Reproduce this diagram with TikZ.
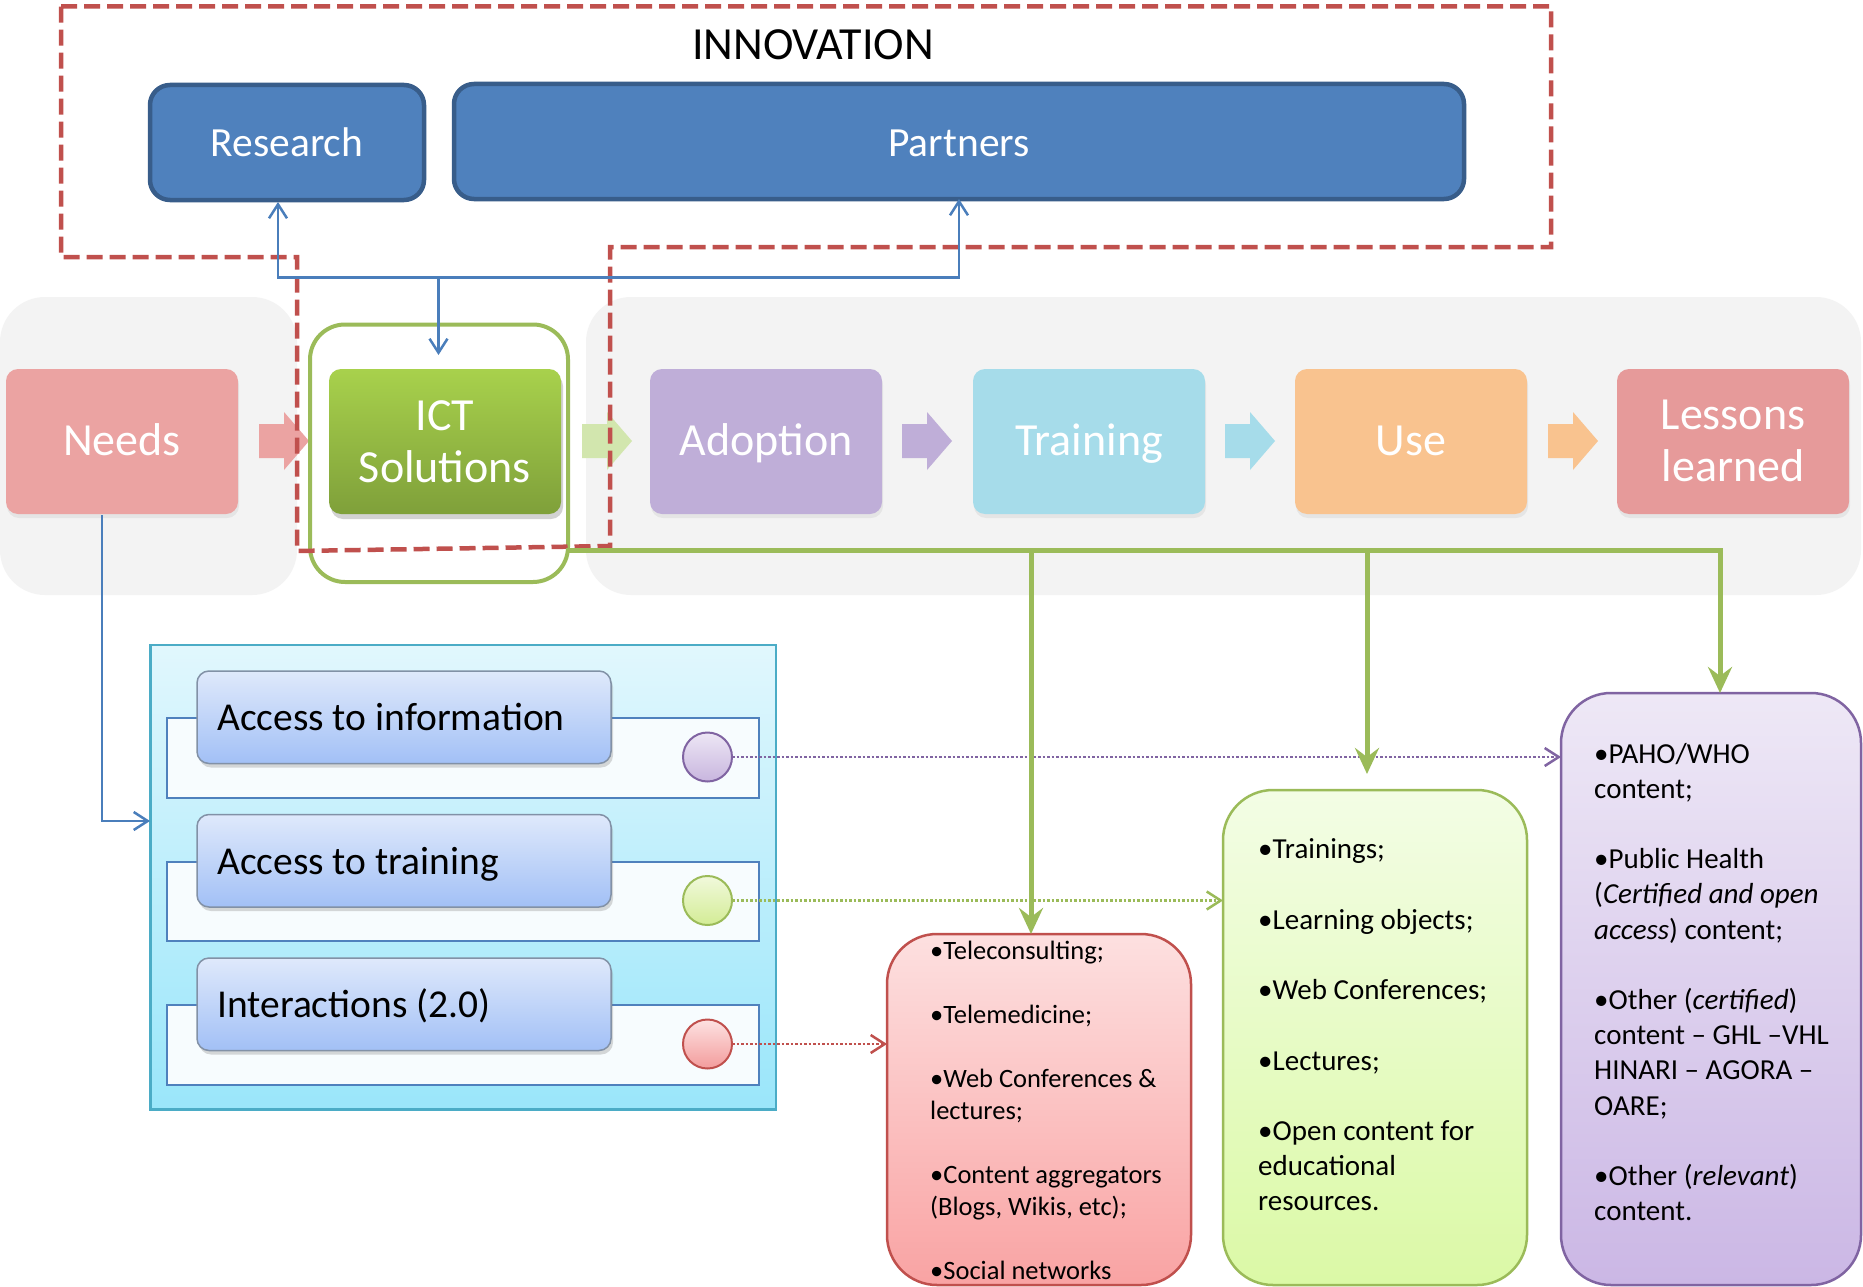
\documentclass[tikz,border=0pt]{standalone}
\usepackage{fontspec}
\setmainfont{Carlito}
\usetikzlibrary{arrows.meta,shadows,calc}
\definecolor{dashred}{HTML}{C0504D}
\definecolor{boxblue}{HTML}{4F81BD}
\definecolor{boxblueb}{HTML}{385D8A}
\definecolor{connblue}{HTML}{4A7EBB}
\definecolor{ogreen}{HTML}{9BBB59}
\definecolor{opurple}{HTML}{8064A2}
\definecolor{bggray}{HTML}{F3F3F3}
\definecolor{needsc}{HTML}{EBA3A2}
\definecolor{adoptc}{HTML}{BFAED8}
\definecolor{trainc}{HTML}{A6DCEA}
\definecolor{usec}{HTML}{F9C38F}
\definecolor{lessc}{HTML}{E69A9A}
\definecolor{ictarrc}{HTML}{D2E6AE}
\definecolor{ictt}{HTML}{A8D14C}
\definecolor{ictb}{HTML}{7FA03A}
\definecolor{panelt}{HTML}{E1F7FD}
\definecolor{panelb}{HTML}{9AE6FA}
\definecolor{panelline}{HTML}{4BACC6}
\definecolor{labt}{HTML}{DFE9FB}
\definecolor{labb}{HTML}{A2C0F6}
\definecolor{labline}{HTML}{8291A6}
\definecolor{rowfill}{HTML}{F7FCFE}
\definecolor{redt}{HTML}{FDE0E0}
\definecolor{redb}{HTML}{F9A3A3}
\definecolor{grnt}{HTML}{F3FDE5}
\definecolor{grnb}{HTML}{DBF9A6}
\definecolor{purt}{HTML}{EEE8F6}
\definecolor{purb}{HTML}{CBB7E5}
\definecolor{cpurt}{HTML}{EDE6F5}
\definecolor{cpurb}{HTML}{C8B5DE}
\definecolor{cgrnt}{HTML}{F1F9DC}
\definecolor{cgrnb}{HTML}{D3EC95}
\definecolor{credt}{HTML}{FDE2E2}
\definecolor{credb}{HTML}{F39C9C}
\begin{document}
\begin{tikzpicture}[x=1pt,y=-1pt,
  procbox/.style={rectangle, rounded corners=12pt, minimum width=232pt, minimum height=145pt, inner sep=0pt, outer sep=0pt},
  proctext/.style={anchor=base, text=white, font=\fontsize{46}{55}\selectfont, inner sep=0pt},
  bluebox/.style={rectangle, rounded corners=20pt, fill=boxblue, draw=boxblueb, line width=4.5pt, inner sep=0pt, outer sep=0pt, minimum height=115pt},
  bluetext/.style={anchor=base, text=white, font=\fontsize{41.5}{50}\selectfont, inner sep=0pt},
  bconn/.style={draw=connblue, line width=2.5pt},
  barb/.style={-{Straight Barb[length=14pt,width=18pt]}},
  gline/.style={draw=ogreen, line width=5pt},
  garrow/.style={-{Stealth[length=26pt,width=24pt,inset=9pt]}},
  dotconn/.style={line width=2.5pt, dash pattern=on 2.5pt off 2pt},
  rowrect/.style={rectangle, fill=rowfill, draw=boxblue, line width=2pt, minimum width=592pt, minimum height=79.5pt, inner sep=0pt, outer sep=0pt},
  labbox/.style={rectangle, rounded corners=12pt, top color=labt, bottom color=labb, draw=labline, line width=1.5pt, minimum width=414pt, minimum height=92.5pt, inner sep=0pt, outer sep=0pt, drop shadow={shadow xshift=2pt, shadow yshift=-4pt, opacity=0.3}},
  labtext/.style={anchor=base west, font=\fontsize{39.5}{47}\selectfont, inner sep=0pt},
  dotc/.style={circle, minimum size=49pt, inner sep=0pt, outer sep=0pt, line width=2pt},
  rbox/.style={rectangle, rounded corners=50pt, line width=2.5pt, inner sep=0pt, outer sep=0pt},
  redtxt/.style={anchor=base west, font=\fontsize{26.5}{32}\selectfont, inner sep=0pt},
  rtxt/.style={anchor=base west, font=\fontsize{29}{35}\selectfont, inner sep=0pt}
]
\useasboundingbox (0,0) rectangle (1863,1287);
\fill[white] (0,0) rectangle (1863,1287);

% gray backgrounds
\fill[bggray, rounded corners=45pt] (0,297) rectangle (297,595);
\fill[bggray, rounded corners=45pt] (586,297) rectangle (1861,595);

% process boxes
\node[procbox, fill=needsc, drop shadow={shadow xshift=1pt, shadow yshift=-4pt, opacity=0.12}] (needs) at (122,441.5) {};
\node[procbox, top color=ictt, bottom color=ictb, drop shadow={shadow xshift=2pt, shadow yshift=-5pt, opacity=0.35}] (ict) at (445,441.5) {};
\node[procbox, fill=adoptc, drop shadow={shadow xshift=1pt, shadow yshift=-4pt, opacity=0.12}] (adoption) at (766,441.5) {};
\node[procbox, fill=trainc, drop shadow={shadow xshift=1pt, shadow yshift=-4pt, opacity=0.12}] (training) at (1089,441.5) {};
\node[procbox, fill=usec, drop shadow={shadow xshift=1pt, shadow yshift=-4pt, opacity=0.12}] (use) at (1411,441.5) {};
\node[procbox, fill=lessc, drop shadow={shadow xshift=1pt, shadow yshift=-4pt, opacity=0.12}] (lessons) at (1733,441.5) {};

\node[proctext] (needsT) at (122,455) {Needs};
\node[proctext] (ictT1) at (445,430) {ICT};
\node[proctext] (ictT2) at (445,482) {Solutions};
\node[proctext] (adoptT) at (766,455) {Adoption};
\node[proctext] (trainT) at (1089,455) {Training};
\node[proctext] (useT) at (1411,455) {Use};
\node[proctext] (lessT1) at (1733,429) {Lessons};
\node[proctext] (lessT2) at (1733,481) {learned};

% block arrows between process boxes
\foreach \xa/\cc in {259/needsc, 582/ictarrc, 902/adoptc, 1225/trainc, 1548/usec}{
  \fill[\cc] (\xa,424) -- ++(25,0) -- ++(0,-12) -- ++(25,29) -- ++(-25,29) -- ++(0,-12) -- ++(-25,0) -- cycle;
}

% green frame around ICT
\node[rectangle, draw=ogreen, line width=4pt, rounded corners=35pt, minimum width=258pt, minimum height=257.5pt, inner sep=0pt, outer sep=0pt] (ictframe) at (439,453.25) {};

% red dashed innovation boundary
\draw[dashred, line width=4.5pt, dash pattern=on 16pt off 7pt] (61,6.5) -- (1551,6.5) -- (1551,247) -- (610,247) -- (610,546) -- (297,551) -- (297,257) -- (61,257) -- cycle;

% innovation group
\node[anchor=base, font=\fontsize{46}{55}\selectfont, inner sep=0pt] (innov) at (813,60) {INNOVATION};
\node[bluebox, minimum width=274pt] (research) at (287,142.5) {};
\node[bluebox, minimum width=1010pt] (partners) at (959,141.5) {};
\node[bluetext] (researchT) at (287,157) {Research};
\node[bluetext] (partnersT) at (959,157) {Partners};

% blue connectors
\coordinate (rA) at (278,202);
\coordinate (bmid) at (438.5,277.5);
\coordinate (ictIn) at (438.5,355);
\draw[bconn, {Straight Barb[length=14pt,width=18pt]}-{Straight Barb[length=14pt,width=18pt]}] (rA) |- (bmid) -| (partners.south);
\draw[bconn, barb] (bmid) -- (ictIn);

% cyan panel
\node[rectangle, top color=panelt, bottom color=panelb, draw=panelline, line width=2.5pt, minimum width=625.6pt, minimum height=464.6pt, inner sep=0pt, outer sep=0pt] (panel) at (463.2,877.3) {};

\coordinate (nA) at (102,515);
\coordinate (pIn) at (150,821);
\draw[bconn, barb] (nA) |- (pIn);

% rows
\foreach \i/\t/\ct/\cb/\cd in {0/Access to information/cpurt/cpurb/opurple, 1/Access to training/cgrnt/cgrnb/ogreen, 2/Interactions (2.0)/credt/credb/dashred}{
  \node[rowrect] (row\i) at (463,{757.75+143.5*\i}) {};
  \node[labbox] (lab\i) at (404,{717.25+143.5*\i}) {};
  \node[labtext] (labT\i) at (217,{730.6+143.5*\i}) {\t};
  \node[dotc, top color=\ct, bottom color=\cb, draw=\cd] (c\i) at (707.5,{757+143.5*\i}) {};
}

% right boxes
\node[rbox, draw=dashred, top color=redt, bottom color=redb, minimum width=304pt, minimum height=351pt] (redbox) at (1039,1109.5) {};
\node[rbox, draw=ogreen, top color=grnt, bottom color=grnb, minimum width=304pt, minimum height=495pt] (greenbox) at (1375,1037.5) {};
\node[rbox, draw=opurple, top color=purt, bottom color=purb, minimum width=300pt, minimum height=592pt] (purplebox) at (1711,989) {};

% dotted connectors
\draw[dotconn, draw=opurple, barb] (c0.east) -- (c0.east -| purplebox.west);
\draw[dotconn, draw=ogreen, barb] (c1.east) -- (c1.east -| greenbox.west);
\draw[dotconn, draw=dashred, barb] (c2.east) -- (c2.east -| redbox.west);

% green connectors
\coordinate (gs) at (566,550);
\coordinate (g1) at (1031,550);
\coordinate (g2) at (1367,550);
\coordinate (g3) at (1720,550);
\coordinate (gEnd2) at (1367,774);
\draw[gline, garrow] (gs) -- (g3) -- (g3 |- purplebox.north);
\draw[gline, garrow] (g1) -- (g1 |- redbox.north);
\draw[gline, garrow] (g2) -- (gEnd2);

% texts in right boxes
\foreach \k/\t in {0/{•Teleconsulting;}, 2/{•Telemedicine;}, 4/{•Web Conferences \&}, 5/{lectures;}, 7/{•Content aggregators}, 8/{(Blogs, Wikis, etc);}, 10/{•Social networks}}{
  \node[redtxt] (rt\k) at (930,{959.5+32*\k}) {\t};
}
\foreach \k/\t in {0/{•Trainings;}, 2/{•Learning objects;}, 4/{•Web Conferences;}, 6/{•Lectures;}, 8/{•Open content for}, 9/{educational}, 10/{resources.}}{
  \node[rtxt] (gt\k) at (1258,{858.9+35.2*\k}) {\t};
}
\foreach \k/\t in {0/{•PAHO/WHO}, 1/{content;}, 3/{•Public Health}, 4/{(\textit{Certified and open}}, 5/{\textit{access}) content;}, 7/{•Other (\textit{certified})}, 8/{content – GHL –VHL}, 9/{HINARI – AGORA –}, 10/{OARE;}, 12/{•Other (\textit{relevant})}, 13/{content.}}{
  \node[rtxt] (pt\k) at (1594,{763+35.2*\k}) {\t};
}
\end{tikzpicture}
\end{document}
